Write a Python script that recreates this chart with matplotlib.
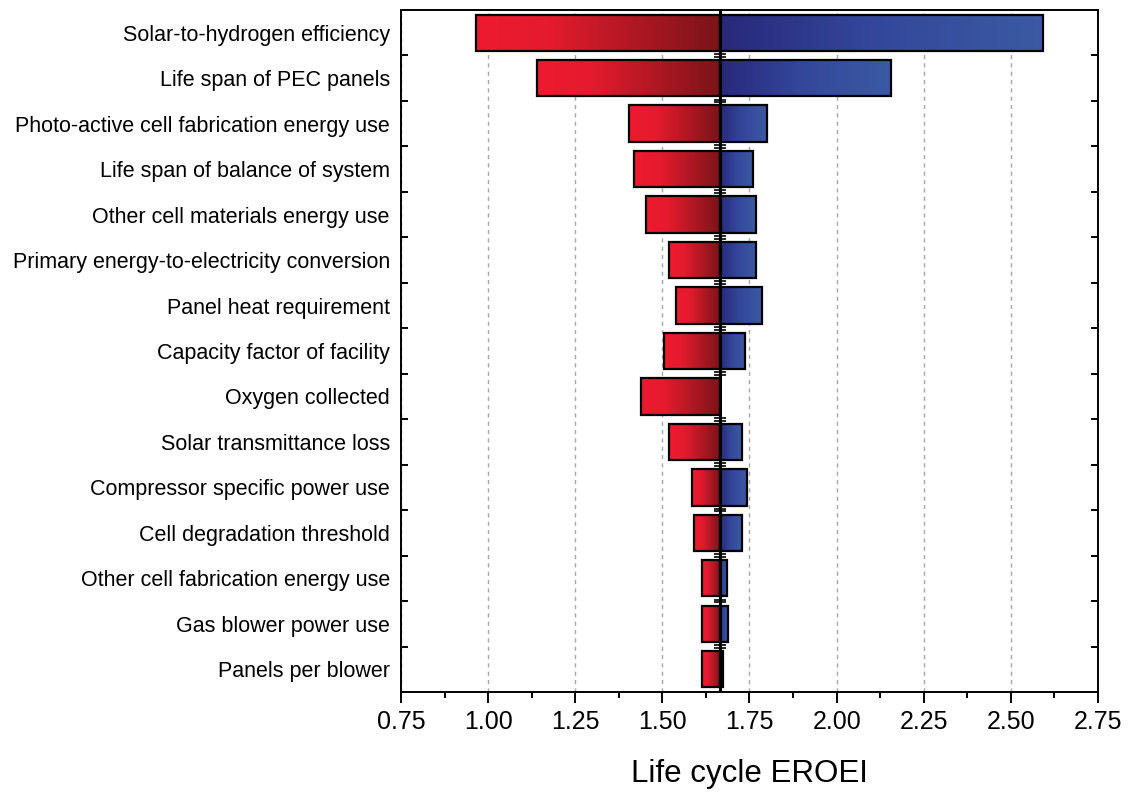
import numpy as np
import matplotlib
matplotlib.use('Agg')
import matplotlib.pyplot as plt
from matplotlib.colors import LinearSegmentedColormap
from matplotlib.ticker import FixedLocator, MultipleLocator

plt.rcParams['font.family'] = ['Liberation Sans', 'DejaVu Sans']

# =========================
# data
# =========================

params = [
    'Solar-to-hydrogen efficiency',
    'Life span of PEC panels',
    'Photo-active cell fabrication energy use',
    'Life span of balance of system',
    'Other cell materials energy use',
    'Primary energy-to-electricity conversion',
    'Panel heat requirement',
    'Capacity factor of facility',
    'Oxygen collected',
    'Solar transmittance loss',
    'Compressor specific power use',
    'Cell degradation threshold',
    'Other cell fabrication energy use',
    'Gas blower power use',
    'Panels per blower',
]
base_eroei = 1.665
low_eroei = [0.965, 1.140, 1.404, 1.418, 1.453, 1.519, 1.539, 1.504,
             1.438, 1.519, 1.585, 1.591, 1.613, 1.613, 1.613]
high_eroei = [2.592, 2.156, 1.800, 1.760, 1.768, 1.770, 1.786, 1.737,
              1.665, 1.728, 1.742, 1.728, 1.685, 1.688, 1.674]

# =========================
# plot
# =========================

red_cmap = LinearSegmentedColormap.from_list(
    'reds', [(0.0, '#ee1a2f'), (0.3, '#e41b2e'), (1.0, '#7a1418')])
blue_cmap = LinearSegmentedColormap.from_list(
    'blues', [(0.0, '#28287a'), (0.45, '#33469a'), (1.0, '#3b5aa3')])
grad = np.linspace(0, 1, 256).reshape(1, -1)

fig = plt.figure(figsize=(11.32, 7.94), dpi=100)
ax = fig.add_axes([0.3542, 0.1285, 0.6158, 0.8589])

bar_h = 0.8
y = np.arange(len(params))

for i in range(len(params)):
    lo, hi = low_eroei[i], high_eroei[i]
    if base_eroei - lo > 1e-3:
        ax.imshow(grad, extent=(lo, base_eroei, y[i] + bar_h / 2, y[i] - bar_h / 2),
                  cmap=red_cmap, aspect='auto', interpolation='bicubic', zorder=2)
    if hi - base_eroei > 1e-3:
        ax.imshow(grad, extent=(base_eroei, hi, y[i] + bar_h / 2, y[i] - bar_h / 2),
                  cmap=blue_cmap, aspect='auto', interpolation='bicubic', zorder=2)

low_w = [base_eroei - v for v in low_eroei]
high_w = [v - base_eroei for v in high_eroei]
ax.barh(y, low_w, left=low_eroei, height=bar_h, fill=False,
        edgecolor='black', linewidth=1.6, zorder=3)
ax.barh(y, high_w, left=base_eroei, height=bar_h, fill=False,
        edgecolor='black', linewidth=1.6, zorder=3)

ax.axvline(base_eroei, color='black', linewidth=2.2, zorder=4)
bounds = y[:-1] + 0.5
for off in (-0.03, 0.03):
    ax.plot([base_eroei] * len(bounds), bounds + off, linestyle='none',
            marker='_', markersize=9, markeredgewidth=1.2, color='black', zorder=5)

ax.set_xlim(0.75, 2.75)
ax.set_ylim(len(params) - 0.5, -0.5)

ax.xaxis.set_major_locator(MultipleLocator(0.25))
ax.xaxis.set_minor_locator(MultipleLocator(0.125))
ax.set_xticklabels(['{:.2f}'.format(v) for v in ax.get_xticks()])
ax.tick_params(axis='x', which='major', direction='out', length=8, width=1.4,
               labelsize=18, pad=5)
ax.tick_params(axis='x', which='minor', direction='out', length=4, width=1.4)

ax.set_yticks(y)
ax.set_yticklabels(params)
ax.yaxis.set_minor_locator(FixedLocator(bounds))
ax.tick_params(axis='y', which='major', length=0, labelsize=15.5, pad=8)
ax.tick_params(axis='y', which='minor', direction='in', length=5, width=1.4,
               left=True, right=True)

ax.grid(axis='x', which='major', linestyle=(0, (3, 3)), color='#a8a8a8',
        linewidth=1.0, zorder=1)
ax.set_axisbelow(True)

for s in ax.spines.values():
    s.set_linewidth(1.4)

ax.set_xlabel('Life cycle EROEI', fontsize=22.5, labelpad=18)

plt.savefig('out.png')
plt.close('all')
